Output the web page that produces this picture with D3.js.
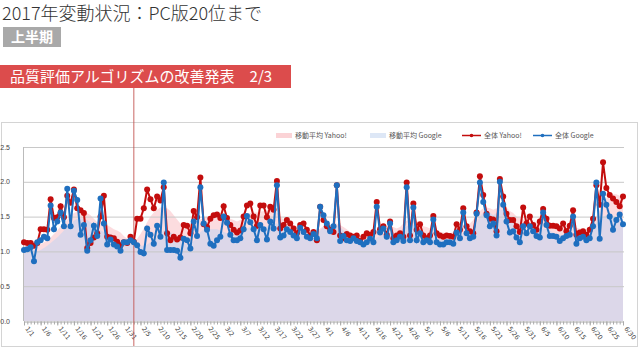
<!DOCTYPE html>
<html><head><meta charset="utf-8">
<script src="https://cdn.jsdelivr.net/npm/d3@7"></script>
<style>body{margin:0;background:#fff;}svg{display:block;}</style>
</head><body>
<script>
// ---- data ----
const google = [
 1.02,1.03,1.06,0.86,1.13,1.16,1.21,1.19,1.66,1.32,
 1.43,1.56,1.36,1.90,1.36,1.87,1.74,1.24,1.38,1.01,
 1.16,1.37,1.22,1.76,1.40,1.10,1.17,1.10,1.07,1.01,
 1.13,1.13,1.16,1.13,1.09,0.99,0.97,1.33,1.24,1.11,
 1.37,1.21,1.99,1.02,1.02,1.02,1.01,0.91,1.18,1.16,
 1.04,1.43,1.22,1.92,1.40,1.31,1.11,1.08,1.16,1.21,
 1.50,1.41,1.24,1.16,1.16,1.19,1.32,1.51,1.42,1.32,
 1.16,1.38,1.32,1.17,1.43,1.33,1.95,1.20,1.23,1.32,
 1.28,1.23,1.19,1.34,1.28,1.21,1.19,1.25,1.19,1.64,
 1.52,1.40,1.29,1.36,1.95,1.15,1.22,1.16,1.15,1.19,
 1.15,1.13,1.10,1.13,1.18,1.13,1.64,1.27,1.33,1.21,
 1.40,1.13,1.16,1.21,1.15,1.92,1.16,1.63,1.16,1.26,
 1.13,1.16,1.13,1.46,1.13,1.10,1.10,1.13,1.13,1.11,
 1.27,1.19,1.56,1.26,1.19,1.21,1.54,1.99,1.71,1.52,
 1.36,1.40,1.23,2.00,1.67,1.43,1.27,1.29,1.20,1.13,
 1.36,1.26,1.36,1.29,1.22,1.20,1.56,1.38,1.22,1.22,
 1.21,1.15,1.19,1.22,1.24,1.50,1.11,1.19,1.21,1.16,
 1.19,1.36,1.99,1.18,1.83,1.67,1.50,1.31,1.45,1.53,
 1.39
];
const yahoo = [
 1.13,1.12,1.12,1.08,1.12,1.32,1.32,1.31,1.75,1.48,
 1.49,1.65,1.49,1.80,1.70,1.89,1.62,1.59,1.55,1.05,
 1.12,1.20,1.26,1.50,1.80,1.21,1.20,1.19,1.14,1.09,
 1.13,1.12,1.21,1.14,1.47,1.47,1.62,1.89,1.75,1.62,
 1.79,1.73,1.92,1.26,1.16,1.21,1.17,1.20,1.38,1.37,
 1.26,1.58,1.49,2.06,1.39,1.35,1.47,1.52,1.53,1.48,
 1.65,1.48,1.38,1.31,1.27,1.30,1.50,1.66,1.69,1.50,
 1.37,1.66,1.66,1.49,1.64,1.60,2.01,1.33,1.38,1.45,
 1.40,1.33,1.26,1.38,1.40,1.31,1.23,1.28,1.16,1.64,
 1.45,1.36,1.31,1.28,1.95,1.23,1.19,1.25,1.23,1.21,
 1.23,1.15,1.21,1.26,1.24,1.28,1.71,1.32,1.36,1.24,
 1.43,1.19,1.23,1.26,1.21,1.99,1.23,1.69,1.31,1.39,
 1.23,1.19,1.23,1.51,1.26,1.23,1.21,1.23,1.22,1.21,
 1.39,1.31,1.62,1.36,1.29,1.26,1.56,2.08,1.81,1.54,
 1.47,1.46,1.29,2.04,1.79,1.54,1.45,1.45,1.36,1.28,
 1.63,1.40,1.50,1.38,1.31,1.43,1.61,1.47,1.37,1.37,
 1.36,1.33,1.40,1.29,1.37,1.59,1.24,1.27,1.29,1.24,
 1.31,1.47,1.95,1.67,2.28,1.91,1.81,1.76,1.71,1.65,
 1.79
];
const maYahoo = [
 1.10,1.10,1.10,1.10,1.09,1.10,1.13,1.16,1.20,1.25,
 1.30,1.36,1.40,1.46,1.50,1.55,1.57,1.58,1.58,1.55,
 1.52,1.47,1.42,1.40,1.40,1.38,1.35,1.32,1.30,1.27,
 1.22,1.18,1.15,1.14,1.18,1.25,1.33,1.42,1.50,1.56,
 1.60,1.63,1.64,1.62,1.58,1.52,1.46,1.40,1.36,1.35,
 1.34,1.37,1.42,1.46,1.48,1.50,1.50,1.52,1.55,1.55,
 1.53,1.50,1.47,1.45,1.43,1.45,1.50,1.53,1.55,1.56,
 1.56,1.57,1.58,1.60,1.62,1.60,1.56,1.50,1.46,1.42,
 1.40,1.38,1.36,1.35,1.34,1.33,1.31,1.30,1.30,1.33,
 1.36,1.37,1.38,1.40,1.40,1.38,1.35,1.32,1.28,1.25,
 1.23,1.22,1.22,1.23,1.25,1.28,1.30,1.32,1.33,1.34,
 1.35,1.35,1.33,1.35,1.40,1.44,1.46,1.46,1.44,1.40,
 1.36,1.35,1.33,1.32,1.30,1.28,1.27,1.26,1.26,1.28,
 1.30,1.33,1.36,1.38,1.40,1.45,1.52,1.58,1.62,1.63,
 1.62,1.60,1.62,1.65,1.66,1.63,1.58,1.55,1.50,1.48,
 1.46,1.44,1.43,1.43,1.42,1.44,1.45,1.44,1.42,1.40,
 1.38,1.37,1.36,1.37,1.38,1.36,1.34,1.33,1.32,1.30,
 1.32,1.40,1.50,1.60,1.70,1.76,1.80,1.82,1.82,1.80,
 1.80
];
const maGoogle = [
 1.00,1.02,1.03,1.02,1.00,1.02,1.05,1.08,1.12,1.16,
 1.20,1.25,1.30,1.35,1.40,1.44,1.47,1.48,1.47,1.45,
 1.42,1.38,1.33,1.30,1.28,1.27,1.25,1.22,1.18,1.15,
 1.12,1.12,1.11,1.10,1.10,1.08,1.08,1.10,1.13,1.16,
 1.20,1.25,1.30,1.30,1.28,1.24,1.20,1.16,1.12,1.10,
 1.10,1.15,1.20,1.28,1.32,1.33,1.32,1.32,1.32,1.30,
 1.28,1.26,1.25,1.24,1.24,1.26,1.30,1.33,1.35,1.35,
 1.34,1.33,1.34,1.36,1.38,1.40,1.40,1.37,1.34,1.30,
 1.27,1.25,1.24,1.25,1.25,1.25,1.24,1.23,1.24,1.30,
 1.36,1.38,1.38,1.38,1.38,1.35,1.30,1.25,1.20,1.17,
 1.15,1.14,1.13,1.13,1.14,1.15,1.20,1.22,1.24,1.25,
 1.26,1.26,1.25,1.27,1.33,1.36,1.38,1.38,1.36,1.32,
 1.26,1.22,1.20,1.20,1.19,1.18,1.17,1.16,1.15,1.16,
 1.18,1.22,1.25,1.27,1.28,1.32,1.40,1.50,1.56,1.58,
 1.56,1.52,1.55,1.60,1.60,1.56,1.50,1.42,1.36,1.32,
 1.30,1.30,1.31,1.31,1.30,1.32,1.33,1.32,1.30,1.27,
 1.25,1.24,1.23,1.24,1.25,1.26,1.24,1.22,1.21,1.20,
 1.22,1.30,1.40,1.45,1.50,1.52,1.52,1.50,1.50,1.48,
 1.46
];
const tickLabels = ["1/1","1/6","1/11","1/16","1/21","1/26","1/31","2/5","2/10","2/15","2/20","2/25",
 "3/2","3/7","3/12","3/17","3/22","3/27","4/1","4/6","4/11","4/16","4/21","4/26",
 "5/1","5/6","5/11","5/16","5/21","5/26","5/31","6/5","6/10","6/15","6/20","6/25","6/30"];
const yTicks = [0,0.5,1.0,1.5,2.0,2.5];
const eventDate = "2/3";
const title = "2017年変動状況：PC版20位まで";
const badge = "上半期";
const banner = "品質評価アルゴリズムの改善発表　2/3";
const legendItems = ["移動平均 Yahoo!","移動平均 Google","全体 Yahoo!","全体 Google"];

// categories (dates)
const fmt = d3.timeFormat("%-m/%-d");
const categories = d3.timeDay.range(new Date(2017,0,1), new Date(2017,6,1)).map(fmt);

const W=640,H=348;
const jp = "'Noto Sans CJK JP','Noto Sans',sans-serif";
const svg = d3.select("body").append("svg").attr("width",W).attr("height",H);

// header
svg.append("text").attr("x",2).attr("y",20).attr("font-family",jp).attr("font-size",18)
  .attr("fill","#333").attr("font-weight",300).text(title);
svg.append("rect").attr("x",3).attr("y",27).attr("width",58).attr("height",20).attr("fill","#a9a9a9");
svg.append("text").attr("x",32).attr("y",42).attr("text-anchor","middle").attr("font-family",jp)
  .attr("font-size",14).attr("font-weight",700).attr("fill","#fff").text(badge);
svg.append("rect").attr("x",0).attr("y",65).attr("width",291).attr("height",23).attr("fill","#dc4c4c");
svg.append("text").attr("x",10).attr("y",82).attr("font-family",jp).attr("font-size",15)
  .attr("fill","#fff").attr("xml:space","preserve").text(banner);

// frame
svg.append("rect").attr("x",1.5).attr("y",122.5).attr("width",636).attr("height",224)
  .attr("fill","none").attr("stroke","#d4d4d4");

// scales
const x = d3.scalePoint().domain(categories).range([24,623]);
const y = d3.scaleLinear().domain([0,2.5]).range([321,147]);

// areas
const area = d3.area().x((d,i)=>x(categories[i])).y0(y(0)).y1(d=>y(d));
svg.append("path").datum(maYahoo).attr("d",area).attr("fill","rgb(250,196,202)").attr("fill-opacity",0.6);
svg.append("path").datum(maGoogle).attr("d",area).attr("fill","rgb(198,212,240)").attr("fill-opacity",0.6);

// grid
svg.append("g").selectAll("line").data(yTicks.filter(v=>v>0)).join("line")
  .attr("x1",24).attr("x2",624).attr("y1",d=>y(d)+0.5).attr("y2",d=>y(d)+0.5)
  .attr("stroke","#c8c8c8").attr("stroke-width",1);
svg.append("g").selectAll("text").data(yTicks).join("text")
  .attr("x",10).attr("y",d=>y(d)+2.5).attr("text-anchor","end")
  .attr("font-family","'Liberation Sans',Arial,sans-serif").attr("font-size",7).attr("fill","#444")
  .text(d=>d.toFixed(1));
svg.append("line").attr("x1",23.5).attr("x2",23.5).attr("y1",147).attr("y2",321).attr("stroke","#bbb");

// x axis
const gx = svg.append("g").attr("transform",`translate(0,${y(0)+0.5})`);
gx.call(d3.axisBottom(x).tickValues(categories).tickSize(3).tickFormat(""));
gx.select(".domain").attr("stroke","#aaa");
gx.selectAll(".tick line").attr("stroke","#aaa");
const gl = svg.append("g").attr("transform",`translate(0,${y(0)+0.5})`);
gl.call(d3.axisBottom(x).tickValues(tickLabels).tickSize(4).tickPadding(0));
gl.select(".domain").remove();
gl.selectAll(".tick line").attr("stroke","#aaa");
gl.selectAll(".tick text").attr("text-anchor","start").attr("transform","translate(2,6) rotate(52)")
  .attr("dy","0.3em").attr("y",0).attr("x",0)
  .attr("font-family","'DejaVu Sans',Verdana,sans-serif").attr("font-size",6.5).attr("fill","#444");

// event line
svg.append("line").attr("x1",x(eventDate)).attr("x2",x(eventDate)).attr("y1",88).attr("y2",346)
  .attr("stroke","#c0504d").attr("stroke-opacity",0.8).attr("stroke-width",1.1);

// lines
const line = d3.line().x((d,i)=>x(categories[i])).y(d=>y(d));
function series(data,color){
  const g = svg.append("g");
  g.append("path").datum(data).attr("d",line).attr("fill","none").attr("stroke",color).attr("stroke-width",2);
  g.selectAll("circle").data(data).join("circle").attr("cx",(d,i)=>x(categories[i])).attr("cy",d=>y(d))
    .attr("r",3).attr("fill",color);
}
series(yahoo,"#c30d0d");
series(google,"#1f6fbf");

// legend
const lg = svg.append("g").attr("font-family",jp).attr("font-size",7).attr("fill","#555");
lg.append("rect").attr("x",276).attr("y",133).attr("width",16).attr("height",5).attr("fill","#fbd3d6");
lg.append("text").attr("x",295).attr("y",138).text(legendItems[0]);
lg.append("rect").attr("x",370).attr("y",133).attr("width",16).attr("height",5).attr("fill","#dde7f6");
lg.append("text").attr("x",389).attr("y",138).text(legendItems[1]);
lg.append("line").attr("x1",462).attr("x2",481).attr("y1",135.5).attr("y2",135.5).attr("stroke","#c30d0d").attr("stroke-width",1.5);
lg.append("circle").attr("cx",471.5).attr("cy",135.5).attr("r",1.8).attr("fill","#c30d0d");
lg.append("text").attr("x",484).attr("y",138).text(legendItems[2]);
lg.append("line").attr("x1",533).attr("x2",552).attr("y1",135.5).attr("y2",135.5).attr("stroke","#1f6fbf").attr("stroke-width",1.5);
lg.append("circle").attr("cx",542.5).attr("cy",135.5).attr("r",1.8).attr("fill","#1f6fbf");
lg.append("text").attr("x",555).attr("y",138).text(legendItems[3]);
</script>
</body></html>
